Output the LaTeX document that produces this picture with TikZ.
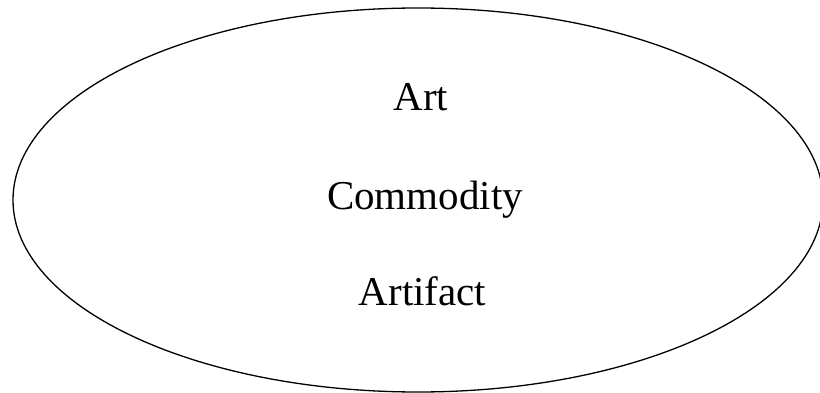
\documentclass[tikz,border=0pt]{standalone}
\usepackage{fontspec}
\setmainfont{Liberation Serif}
\usetikzlibrary{shapes.geometric}

\begin{document}
\begin{tikzpicture}[
  x=1pt, y=-1pt,
  font=\fontsize{41}{49}\selectfont,
  outline/.style={ellipse, draw=black, line width=1.3pt, minimum width=810pt, minimum height=384pt, inner sep=0pt},
  term/.style={anchor=base, inner sep=0pt}
]
\useasboundingbox (0,0) rectangle (820,393);
\node[outline] (field) at (418,200) {};
\node[term] (art) at (421,110.5) {Art};
\node[term] (commodity) at (425,210) {Commodity};
\node[term] (artifact) at (422.5,305) {Artifact};
\end{tikzpicture}
\end{document}
